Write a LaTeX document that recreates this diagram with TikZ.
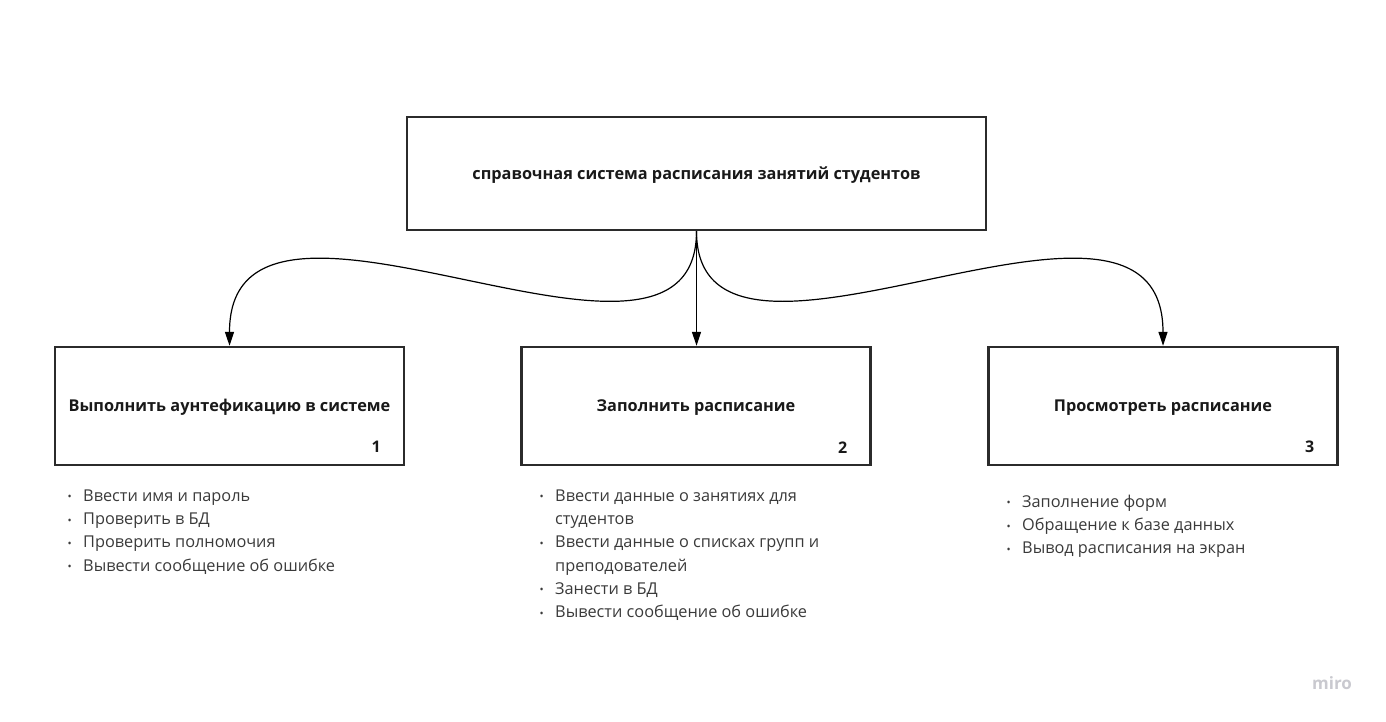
\documentclass[tikz,border=0pt]{standalone}
\usepackage{fontspec}
\setmainfont{Open Sans}
\usetikzlibrary{arrows.meta}
\definecolor{boxline}{HTML}{2B2B2B}
\definecolor{listtext}{HTML}{3A3A3A}
\definecolor{mirogray}{HTML}{C9C9CF}
\tikzset{every picture/.append style={x=1pt, y=-1pt}}
\tikzset{
    block/.style={draw=boxline, line width=2.4pt, minimum width=349pt,
    	minimum height=118pt, inner sep=0pt, text=black!90,
    	text height=11.5pt, text depth=0pt,
    	font=\fontsize{16.3}{20}\selectfont\bfseries},
    num/.style={inner sep=0pt, text=black!90,
    	font=\fontsize{16}{20}\selectfont\bfseries},
    tasks/.style={anchor=north west, align=left, inner sep=0pt,
    	text=listtext, font=\fontsize{16.3}{23.3}\selectfont},
    conn/.style={line width=1.2pt, -{Triangle[length=14pt, width=9pt]}}
}
\newcommand{\bul}{\strut\makebox[17pt][l]{\hspace{1.5pt}\fontsize{11}{11}\selectfont\raisebox{0.5pt}{•}}}
\newcommand{\cont}{\hspace*{17pt}}

\begin{document}
\begin{tikzpicture}
  \useasboundingbox (0, 0) rectangle (1386, 721);
  \node (sys) [block, minimum width=579pt, minimum height=113pt] at (696.5, 173.5)
    {справочная система расписания занятий студентов};
  \node (auth) [block] at (229.5, 406) {Выполнить аунтефикацию в системе};
  \node (fill_s) [block] at (696, 406) {Заполнить расписание};
  \node (view) [block] at (1163, 406) {Просмотреть расписание};
  \node (auth_n) [num] at ([shift={(-29, -19)}]auth.south east) {1};
  \node (fill_n) [num] at ([shift={(-29, -19)}]fill_s.south east) {2};
  \node (view_n) [num] at ([shift={(-29, -19)}]view.south east) {3};

  \node (auth_l) [tasks] at (66, 484.7) {\bul Ввести имя и пароль\\
    \bul Проверить в БД\\ \bul Проверить полномочия\\
    \bul Вывести сообщение об ошибке};
  \node (fill_l) [tasks] at (538, 484.7) {\bul Ввести данные о занятиях для\\
    \cont студентов\\ \bul Ввести данные о списках групп и\\
    \cont преподователей\\ \bul Занести в БД\\
    \bul Вывести сообщение об ошибке};
  \node (view_l) [tasks] at (1005, 490.7) {\bul Заполнение форм\\
    \bul Обращение к базе данных\\ \bul Вывод расписания на экран};
  \node (miro) [inner sep=0pt, text=mirogray,
    font=\fontsize{17}{20}\selectfont\bfseries] at (1332, 683) {miro};

  \draw [conn] (sys.south) .. controls +(0, 195) and +(0, -215) .. (auth.north);
  \draw [conn] (sys.south) -- (sys.south |- fill_s.north);
  \draw [conn] (sys.south) .. controls +(0, 195) and +(0, -215) .. (view.north);
\end{tikzpicture}
\end{document}
